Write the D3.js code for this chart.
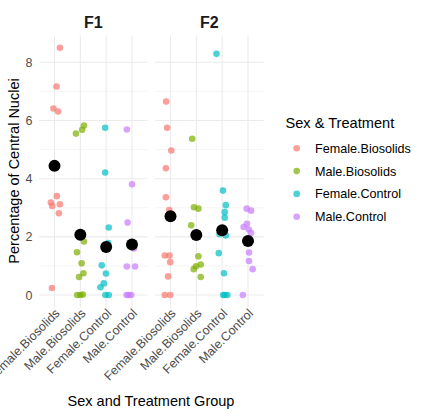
<!DOCTYPE html>
<html><head><meta charset="utf-8">
<script src="https://cdn.jsdelivr.net/npm/d3@7"></script>
<style>body{margin:0;background:#fff;font-family:"Liberation Sans",Arial,sans-serif}</style>
</head><body><svg id="c" width="427" height="417"></svg>
<script>
const facets = ["F1", "F2"];
const categories = ["Female.Biosolids", "Male.Biosolids", "Female.Control", "Male.Control"];
const colors = ["#F8766D", "#7CAE00", "#00BFC4", "#C77CFF"];
const yTicks = [0, 2, 4, 6, 8];

// F1 values per category
const f1Values = [
  [8.50, 7.17, 6.41, 6.31, 3.40, 3.18, 3.12, 3.06, 2.81, 0.24],
  [5.83, 5.68, 5.55, 1.84, 1.47, 1.09, 0.75, 0.62, 0, 0, 0.02],
  [5.75, 4.21, 2.32, 1.79, 1.02, 0.74, 0.40, 0.27, 0, 0],
  [5.69, 3.81, 2.49, 1.60, 0.98, 0.98, 0, 0, 0]
];
// horizontal jitter (fraction of category step)
const f1Jitter = [
  [0.21, 0.08, -0.04, 0.14, 0.09, -0.14, 0.21, -0.09, 0.17, -0.10],
  [0.14, 0.07, -0.17, 0.14, -0.13, 0.05, 0.12, -0.05, -0.12, 0, 0.10],
  [-0.04, -0.04, 0.10, 0.08, -0.17, -0.01, -0.09, -0.22, -0.03, 0.10],
  [-0.20, 0, -0.17, 0.08, -0.20, 0.12, -0.21, -0.13, -0.03]
];
const f1Means = [4.44, 2.07, 1.65, 1.74];

// F2 values per category
const f2Values = [
  [6.65, 5.75, 4.97, 4.36, 3.36, 2.92, 1.36, 1.36, 1.13, 0.64, 0, 0],
  [5.37, 3.02, 2.97, 2.40, 1.33, 1.05, 0.99, 0.89, 0.62],
  [8.29, 3.59, 3.09, 2.85, 2.66, 2.09, 2.05, 1.44, 0.75, 0, 0, 0],
  [2.97, 2.90, 2.45, 2.34, 2.13, 2.25, 1.46, 1.17, 0.89, 0]
];
const f2Jitter = [
  [-0.17, -0.13, 0.03, -0.18, -0.18, -0.05, -0.22, -0.04, -0.01, -0.09, -0.22, -0.01],
  [-0.16, -0.09, 0.08, -0.20, 0.08, 0.17, -0.01, -0.10, 0.17],
  [-0.22, 0.03, 0.14, 0.10, 0.10, -0.10, 0.14, -0.13, 0.07, 0.04, 0.10, 0.20],
  [-0.05, 0.12, -0.04, -0.17, 0.12, 0.03, 0.04, 0.04, 0.18, -0.20]
];
const f2Means = [2.71, 2.06, 2.23, 1.86];

const facetData = [
  {name: facets[0], values: f1Values, jitter: f1Jitter, means: f1Means, range: [39, 147.5]},
  {name: facets[1], values: f2Values, jitter: f2Jitter, means: f2Means, range: [155, 263.5]}
];

const svg = d3.select("#c");
svg.append("rect").attr("width", 427).attr("height", 417).attr("fill", "#fff");

const y = d3.scaleLinear().domain([-0.425, 8.925]).range([307.4, 35.4]);
const gridY = d3.range(0, 9, 1);

facetData.forEach((f, fi) => {
  const x = d3.scalePoint().domain(categories).range(f.range).padding(0.6);
  const step = x.step();
  const g = svg.append("g");
  // grid
  g.selectAll(".gy").data(gridY).enter().append("line")
    .attr("x1", f.range[0]).attr("x2", f.range[1])
    .attr("y1", d => y(d)).attr("y2", d => y(d))
    .attr("stroke", "#EBEBEB").attr("stroke-width", d => d % 2 === 0 ? 1.07 : 0.53);
  g.selectAll(".gx").data(categories).enter().append("line")
    .attr("x1", d => x(d)).attr("x2", d => x(d))
    .attr("y1", y.range()[0]).attr("y2", y.range()[1])
    .attr("stroke", "#EBEBEB").attr("stroke-width", 1.07);
  // strip
  g.append("text").attr("x", (f.range[0] + f.range[1]) / 2).attr("y", 28)
    .attr("text-anchor", "middle").attr("font-size", 16).attr("font-weight", "bold")
    .attr("fill", "#1A1A1A").text(f.name);
  // points
  categories.forEach((c, ci) => {
    g.selectAll(null).data(f.values[ci]).enter().append("circle")
      .attr("cx", (d, i) => x(c) + f.jitter[ci][i] * step)
      .attr("cy", d => y(d)).attr("r", 3.3)
      .attr("fill", colors[ci]).attr("fill-opacity", 0.7);
  });
  // means
  g.selectAll(".m").data(f.means).enter().append("circle")
    .attr("cx", (d, i) => x(categories[i])).attr("cy", d => y(d)).attr("r", 6)
    .attr("fill", "#000");
  // x tick labels
  g.selectAll(".xl").data(categories).enter().append("text")
    .attr("transform", d => `translate(${x(d) + 6},${314}) rotate(-45)`)
    .attr("text-anchor", "end").attr("font-size", 12.5).attr("fill", "#4D4D4D")
    .text(d => d);
  if (fi === 0) {
    g.selectAll(".yl").data(yTicks).enter().append("text")
      .attr("x", 32.5).attr("y", d => y(d)).attr("dy", "0.36em")
      .attr("text-anchor", "end").attr("font-size", 12.5).attr("fill", "#4D4D4D")
      .text(d => d);
  }
});

svg.append("text").attr("transform", "translate(19,171) rotate(-90)")
  .attr("text-anchor", "middle").attr("font-size", 14.5).attr("fill", "#000")
  .text("Percentage of Central Nuclei");
svg.append("text").attr("x", 151).attr("y", 406)
  .attr("text-anchor", "middle").attr("font-size", 14.5).attr("fill", "#000")
  .text("Sex and Treatment Group");

// legend
const lg = svg.append("g");
lg.append("text").attr("x", 285.5).attr("y", 128).attr("font-size", 14.6).attr("fill", "#000")
  .text("Sex & Treatment");
const ly = d3.scalePoint().domain(categories).range([148.3, 216.7]);
lg.selectAll(".lk").data(categories).enter().append("circle")
  .attr("cx", 296.7).attr("cy", d => ly(d)).attr("r", 3.3)
  .attr("fill", (d, i) => colors[i]).attr("fill-opacity", 0.7);
lg.selectAll(".lt").data(categories).enter().append("text")
  .attr("x", 315).attr("y", d => ly(d)).attr("dy", "0.36em")
  .attr("font-size", 12.6).attr("fill", "#000").text(d => d);
</script></body></html>
